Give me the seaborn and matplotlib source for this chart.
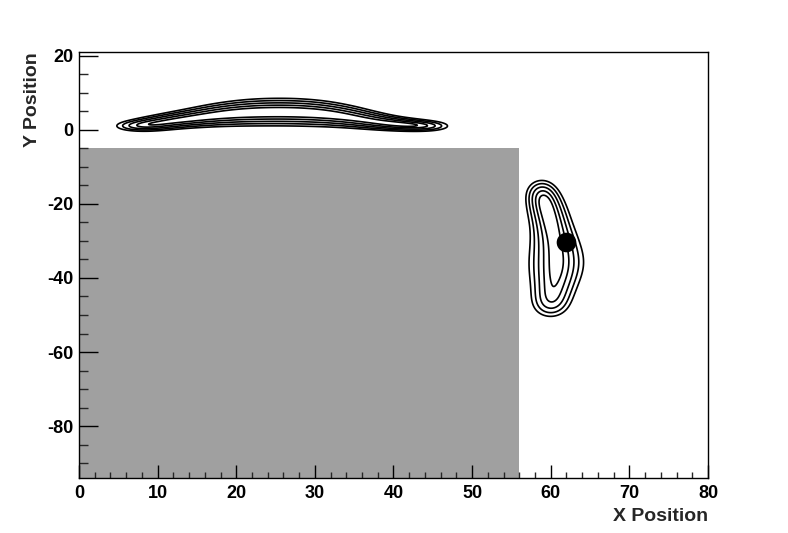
import numpy as np
import matplotlib
matplotlib.use("Agg")
import matplotlib.pyplot as plt
import seaborn as sns

# ---------------- data ----------------
# ridge of the upper (horizontal) blob: centre x, centre y, vertical spread, weight
top_x = [7.2, 9.5, 12.0, 14.5, 17.0, 19.5, 22.0, 24.5, 27.0, 29.5, 32.0, 34.5, 37.0, 39.5, 42.0, 44.5]
top_y = [1.0, 1.7, 2.5, 3.2, 3.9, 4.4, 4.7, 4.8, 4.8, 4.6, 4.2, 3.5, 2.6, 1.8, 1.3, 1.0]
top_sy = [1.0, 1.2, 1.35, 1.55, 1.8, 2.0, 2.15, 2.2, 2.2, 2.15, 2.0, 1.75, 1.45, 1.2, 1.05, 0.95]
top_w = [0.85, 1.0, 1.0, 1.0, 1.0, 1.0, 1.0, 1.0, 1.0, 1.0, 1.0, 1.0, 1.0, 1.0, 1.0, 0.85]

# ridge of the right (vertical) blob: centre x, centre y, horizontal spread, weight
right_x = [58.8, 59.2, 59.5, 59.8, 60.1, 60.35, 60.55, 60.7, 60.75, 60.7, 60.55, 60.35, 60.15, 59.95]
right_y = [-16.5, -18.8, -21.0, -23.3, -25.6, -28.0, -30.5, -33.0, -35.5, -38.0, -40.5, -43.0, -45.5, -48.0]
right_sx = [1.3, 1.4, 1.5, 1.55, 1.6, 1.75, 1.9, 2.05, 2.15, 2.1, 1.95, 1.8, 1.7, 1.6]
right_w = [1.0, 1.0, 1.0, 1.0, 1.0, 1.0, 1.0, 1.0, 1.0, 1.0, 0.95, 0.9, 0.85, 0.8]

contour_levels = [0.236, 0.365, 0.522, 0.694, 0.848]

# shaded (excluded) region
shade_x = [0, 56]
shade_y = [-94, -5]

# marker
dot_x = [62.0]
dot_y = [-30.3]

x_ticks = [0, 10, 20, 30, 40, 50, 60, 70, 80]
y_ticks = [-80, -60, -40, -20, 0, 20]

# ---------------- figure ----------------
sns.set_style("white")
plt.rcParams["font.family"] = ["Liberation Sans", "DejaVu Sans"]
plt.rcParams["font.weight"] = "bold"

fig = plt.figure(figsize=(7.88, 5.33), dpi=100)
ax = fig.add_axes([79 / 788, 55 / 533, 629 / 788, 426 / 533])
ax.set_axisbelow(False)

ax.set_xlim(0, 80)
ax.set_ylim(-94, 21)

# shaded region
ax.fill_between(shade_x, shade_y[0], shade_y[1], color="#a0a0a0", lw=0, zorder=1)

# density field built from ridge points
gx = np.linspace(0, 80, 801)
gy = np.linspace(-94, 21, 1151)
GX, GY = np.meshgrid(gx, gy)


def ridge_field(xs, ys, sxs, sys_, ws):
    f = np.zeros_like(GX)
    for xi, yi, sx, sy, wi in zip(xs, ys, sxs, sys_, ws):
        f += wi * np.exp(-((GX - xi) ** 2 / (2 * sx ** 2) + (GY - yi) ** 2 / (2 * sy ** 2)))
    return f / f.max()


Z = (ridge_field(top_x, top_y, [2.0] * len(top_x), top_sy, top_w)
     + ridge_field(right_x, right_y, right_sx, [2.4] * len(right_x), right_w))
ax.contour(GX, GY, Z, levels=contour_levels, colors="black", linewidths=1.2, zorder=3)

sns.scatterplot(x=dot_x, y=dot_y, s=200, color="black", edgecolor="black", linewidth=0, ax=ax, zorder=4)

# axes styling (ROOT-like)
for sp in ax.spines.values():
    sp.set_color("black")
    sp.set_linewidth(1.0)
    sp.set_zorder(5)
ax.set_xticks(x_ticks)
ax.set_yticks(y_ticks)
ax.set_xticklabels([str(v) for v in x_ticks])
ax.set_yticklabels([str(v) for v in y_ticks])
ax.xaxis.set_minor_locator(matplotlib.ticker.MultipleLocator(2))
ax.yaxis.set_minor_locator(matplotlib.ticker.MultipleLocator(5))
ax.tick_params(axis="x", which="major", direction="in", length=9.2, width=1, pad=5,
               labelsize=13, top=False, bottom=True, colors="black")
ax.tick_params(axis="x", which="minor", direction="in", length=4.6, width=1, top=False, bottom=True)
ax.tick_params(axis="y", which="major", direction="in", length=13.7, width=1, pad=4,
               labelsize=13, left=True, right=False, colors="black")
ax.tick_params(axis="y", which="minor", direction="in", length=6.8, width=1, left=True, right=False)
for lab in ax.get_xticklabels() + ax.get_yticklabels():
    lab.set_fontweight("bold")

ax.set_xlabel("X Position", fontsize=14, fontweight="bold", loc="right")
ax.xaxis.set_label_coords(1.0, -0.071)
ax.set_ylabel("Y Position", fontsize=14, fontweight="bold", loc="top")
ax.yaxis.set_label_coords(-0.061, 1.0)

fig.savefig("out.png", dpi=100)
